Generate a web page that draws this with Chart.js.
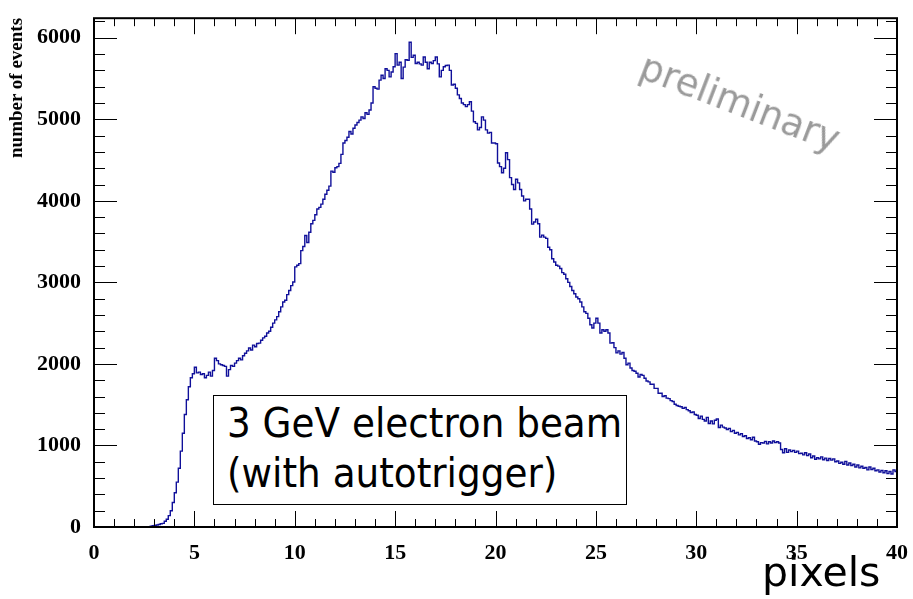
<!DOCTYPE html>
<html>
<head>
<meta charset="utf-8">
<script src="https://cdn.jsdelivr.net/npm/chart.js@4/dist/chart.umd.min.js"></script>
<style>
  html, body { margin: 0; padding: 0; background: #fff; }
  #wrap { position: relative; width: 913px; height: 599px; overflow: hidden; }
  #hist { position: absolute; left: 0; top: 0; }
  .ytitle {
    position: absolute; left: 16px; top: 88px;
    transform: translate(-50%, -50%) rotate(-90deg);
    font: bold 19px "Liberation Serif", serif; white-space: nowrap; color: #000;
  }
  .prelim {
    position: absolute; left: 740px; top: 103px;
    transform: translate(-50%, -50%) rotate(21deg);
    font: 37px "DejaVu Sans", sans-serif; color: #9a9a9a; white-space: nowrap;
  }
  .note {
    position: absolute; left: 213px; top: 395px; width: 414px; height: 110px;
    border: 1.5px solid #000; background: #fff;
    font: 41.5px "DejaVu Sans Condensed", "DejaVu Sans", sans-serif; line-height: 50px;
    padding: 2px 0 0 13px; box-sizing: border-box; color: #000; white-space: nowrap;
  }
  .xtitle {
    position: absolute; left: 762px; top: 548px;
    font: 41px "DejaVu Sans", sans-serif; color: #000; white-space: nowrap;
  }
</style>
</head>
<body>
<div id="wrap">
  <canvas id="hist" width="913" height="599"></canvas>
  <div class="ytitle">number of events</div>
  <div class="prelim">preliminary</div>
  <div class="note">3 GeV electron beam<br>(with autotrigger)</div>
  <div class="xtitle">pixels</div>
</div>
<script>
// histogram binning: 400 bins of 0.1 pixel between 0 and 40
const BIN_START = 0;
const BIN_WIDTH = 0.1;

// entries per bin, one row per unit of "pixels"
const counts = [
  0, 0, 0, 0, 0, 0, 0, 0, 0, 0,
  0, 0, 0, 0, 0, 0, 0, 0, 0, 0,
  0, 0, 0, 0, 0, 0, 0, 5, 10, 15,
  20, 25, 30, 40, 45, 70, 95, 140, 200, 300,
  420, 550, 720, 930, 1150, 1380, 1560, 1720, 1830, 1880,
  1960, 1890, 1900, 1870, 1880, 1830, 1860, 1900, 1850, 1920,
  2070, 2040, 2000, 1990, 1980, 1970, 1850, 1930, 1980, 1970,
  2010, 2040, 2070, 2050, 2100, 2130, 2160, 2195, 2170, 2230,
  2210, 2250, 2255, 2290, 2320, 2340, 2380, 2400, 2450, 2500,
  2540, 2580, 2640, 2700, 2760, 2780, 2850, 2900, 2960, 3005,
  3190, 3210, 3230, 3390, 3440, 3575, 3490, 3615, 3720, 3760,
  3830, 3900, 3920, 3960, 4020, 4080, 4130, 4180, 4365, 4350,
  4405, 4420, 4460, 4570, 4710, 4740, 4780, 4850, 4820, 4890,
  4930, 4960, 4990, 5030, 5010, 5080, 5060, 5115, 5200, 5400,
  5380, 5370, 5480, 5540, 5500, 5620, 5600, 5520, 5580, 5645,
  5805, 5665, 5700, 5500, 5640, 5730, 5725, 5945, 5760, 5785,
  5685, 5700, 5680, 5665, 5765, 5700, 5620, 5700, 5685, 5720,
  5765, 5680, 5520, 5600, 5645, 5660, 5665, 5600, 5420, 5430,
  5380, 5300, 5255, 5200, 5180, 5155, 5180, 5215, 5100, 4970,
  4950, 4870, 4900, 5030, 4990, 4870, 4830, 4840, 4710, 4710,
  4700, 4465, 4420, 4345, 4400, 4590, 4505, 4285, 4200, 4140,
  4265, 4220, 4140, 4060, 4000, 4020, 4020, 3900, 3715, 3740,
  3775, 3720, 3555, 3580, 3555, 3540, 3430, 3400, 3290, 3250,
  3210, 3200, 3170, 3120, 3100, 3045, 3000, 2950, 2900, 2860,
  2820, 2800, 2760, 2700, 2640, 2620, 2560, 2480, 2440, 2500,
  2560, 2500, 2380, 2420, 2400, 2420, 2380, 2255, 2260, 2200,
  2135, 2160, 2120, 2140, 2070, 1990, 2010, 1950, 1920, 1910,
  1885, 1840, 1870, 1860, 1825, 1790, 1780, 1750, 1750, 1700,
  1700, 1640, 1640, 1600, 1610, 1580, 1575, 1550, 1540, 1505,
  1490, 1480, 1475, 1455, 1465, 1440, 1425, 1405, 1410, 1380,
  1370, 1330, 1360, 1320, 1300, 1345, 1270, 1300, 1265, 1310,
  1325, 1220, 1250, 1225, 1215, 1195, 1210, 1170, 1185, 1150,
  1160, 1130, 1145, 1110, 1120, 1085, 1095, 1070, 1100, 1055,
  1045, 1015, 1035, 1030, 1050, 1020, 1045, 1030, 1055, 1035,
  1045, 1030, 950, 910, 960, 915, 945, 925, 940, 915,
  930, 900, 905, 885, 910, 875, 895, 850, 870, 830,
  850, 835, 860, 825, 845, 815, 840, 820, 835, 800,
  810, 780, 795, 770, 805, 760, 785, 755, 770, 735,
  760, 725, 745, 720, 730, 700, 735, 705, 720, 690,
  700, 675, 695, 665, 690, 655, 680, 650, 700, 680
];

const X_TICKS = [0, 5, 10, 15, 20, 25, 30, 35, 40];
const Y_TICKS = [0, 1000, 2000, 3000, 4000, 5000, 6000];
const X_RANGE = [0, 40];
const Y_RANGE = [0, 6240];

// each point sits on a bin's low edge; the last one closes the final bin
const points = counts.map((c, i) => ({ x: BIN_START + i * BIN_WIDTH, y: c }));
points.push({ x: BIN_START + counts.length * BIN_WIDTH, y: counts[counts.length - 1] });

const AXIS_FONT = { family: "'Liberation Serif', serif", size: 22, weight: "bold" };

// ROOT-like frame with inward ticks on all four sides
const frameTicks = {
  id: "frameTicks",
  afterDatasetsDraw(chart) {
    const { ctx, chartArea: a, scales } = chart;
    const xs = scales.x, ys = scales.y;
    ctx.save();
    ctx.strokeStyle = "#000";
    ctx.lineWidth = 1;
    ctx.beginPath();
    for (let v = X_RANGE[0]; v <= X_RANGE[1]; v += 1) {
      const px = Math.round(xs.getPixelForValue(v)) + 0.5;
      const len = v % 5 === 0 ? 16 : 8;
      ctx.moveTo(px, a.bottom); ctx.lineTo(px, a.bottom - len);
      ctx.moveTo(px, a.top); ctx.lineTo(px, a.top + len);
    }
    for (let v = 0; v <= Y_RANGE[1]; v += 200) {
      const py = Math.round(ys.getPixelForValue(v)) + 0.5;
      const len = v % 1000 === 0 ? 23 : 11;
      ctx.moveTo(a.left, py); ctx.lineTo(a.left + len, py);
      ctx.moveTo(a.right, py); ctx.lineTo(a.right - len, py);
    }
    ctx.stroke();
    ctx.lineWidth = 2;
    ctx.strokeRect(a.left, a.top, a.right - a.left, a.bottom - a.top);
    ctx.restore();
  }
};

new Chart(document.getElementById("hist"), {
  type: "line",
  data: {
    datasets: [{
      data: points,
      stepped: "before",
      borderColor: "#10109a",
      borderWidth: 1.4,
      pointRadius: 0,
      fill: false,
    }],
  },
  options: {
    responsive: false,
    animation: false,
    layout: { padding: { top: 14, right: 16, left: 0, bottom: 0 } },
    plugins: { legend: { display: false }, tooltip: { enabled: false } },
    scales: {
      x: {
        type: "linear",
        min: X_RANGE[0],
        max: X_RANGE[1],
        afterBuildTicks: (s) => { s.ticks = X_TICKS.map((v) => ({ value: v })); },
        afterFit: (s) => { s.height = 72; },
        grid: { display: false },
        border: { display: false },
        ticks: {
          font: AXIS_FONT, color: "#000", padding: 5, maxRotation: 0, autoSkip: false,
          callback: (v) => String(v),
        },
      },
      y: {
        min: Y_RANGE[0],
        max: Y_RANGE[1],
        afterBuildTicks: (s) => { s.ticks = Y_TICKS.map((v) => ({ value: v })); },
        afterFit: (s) => { s.width = 94; },
        grid: { display: false },
        border: { display: false },
        ticks: {
          font: AXIS_FONT, color: "#000", padding: 5, autoSkip: false,
          callback: (v) => String(v),
        },
      },
    },
  },
  plugins: [frameTicks],
});
</script>
</body>
</html>
